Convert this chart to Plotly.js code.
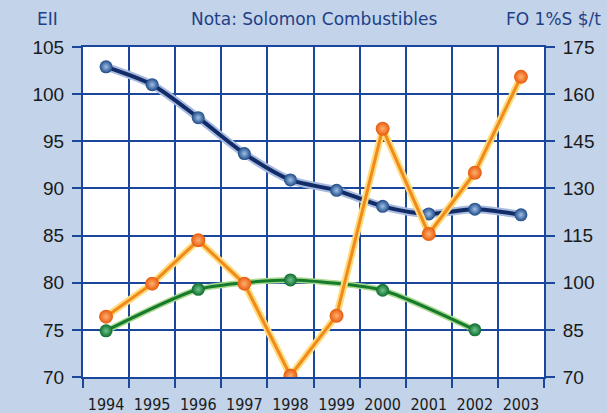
<!DOCTYPE html>
<html>
<head>
<meta charset="utf-8">
<script src="https://cdn.plot.ly/plotly-3.0.1.min.js"></script>
<style>html,body{margin:0;padding:0;background:#C3D3E9;}#chart{width:607px;height:413px;}</style>
</head>
<body>
<div id="chart"></div>
<script>
// Data
const years = ['1994','1995','1996','1997','1998','1999','2000','2001','2002','2003'];
const eii = [102.9, 101.0, 97.5, 93.7, 90.9, 89.8, 88.1, 87.3, 87.8, 87.2];        // left axis (blue)
const fo = [89.2, 99.7, 113.5, 99.7, 70.4, 89.5, 149.0, 115.5, 135.0, 165.5];       // right axis (orange)
const green = [74.9, null, 79.3, null, 80.3, null, 79.2, null, 75.0, null];        // left axis (green)
const leftTicks = [70, 75, 80, 85, 90, 95, 100, 105];
const rightTicks = [70, 85, 100, 115, 130, 145, 160, 175];

const gridC = '#1A479C';

const traces = [
  // green glow + core
  {x: years, y: green, yaxis: 'y', mode: 'lines', connectgaps: true,
   line: {color: '#A9D98F', width: 6, shape: 'spline', smoothing: 0.6}, hoverinfo: 'skip'},
  {x: years, y: green, yaxis: 'y', mode: 'lines+markers', connectgaps: true,
   line: {color: '#157A2C', width: 3, shape: 'spline', smoothing: 0.6},
   marker: {size: 13, color: '#0E6B2E', gradient: {type: 'radial', color: '#6FC48A'}}},
  // blue glow + core
  {x: years, y: eii, yaxis: 'y', mode: 'lines',
   line: {color: '#A8BADF', width: 8, shape: 'spline', smoothing: 0.8}, hoverinfo: 'skip'},
  {x: years, y: eii, yaxis: 'y', mode: 'lines+markers',
   line: {color: '#122C68', width: 4, shape: 'spline', smoothing: 0.8},
   marker: {size: 13, color: '#1E4A86', gradient: {type: 'radial', color: '#9FC0E8'}}},
  // orange glow + core
  {x: years, y: fo, yaxis: 'y2', mode: 'lines',
   line: {color: '#FFDB7A', width: 7}, hoverinfo: 'skip'},
  {x: years, y: fo, yaxis: 'y2', mode: 'lines+markers',
   line: {color: '#F08A1E', width: 3},
   marker: {size: 14, color: '#E85A0C', gradient: {type: 'radial', color: '#FFB070'}}}
];

const tickFont = {family: 'Liberation Sans, Arial, sans-serif', size: 19, color: '#1a1a1a'};
const titleFont = {family: 'DejaVu Sans, sans-serif', size: 17, color: '#1F3F86'};

const layout = {
  width: 607, height: 413,
  paper_bgcolor: '#C3D3E9', plot_bgcolor: '#FFFFFF',
  margin: {l: 83, r: 63, t: 47, b: 36},
  showlegend: false,
  xaxis: {
    type: 'category', categoryorder: 'array', categoryarray: years,
    range: [-0.5, 9.5], tickson: 'boundaries', tickangle: 0, automargin: false,
    showgrid: true, gridcolor: gridC, gridwidth: 2,
    ticks: 'outside', ticklen: 9, tickwidth: 2, tickcolor: gridC,
    showline: true, linecolor: gridC, linewidth: 2, mirror: true,
    tickfont: {family: 'DejaVu Sans Condensed, sans-serif', size: 16, color: '#1a1a1a'},
    ticklabelstandoff: 12, zeroline: false, fixedrange: true
  },
  yaxis: {
    range: [70, 105], tickvals: leftTicks, ticktext: leftTicks.map(String), automargin: false,
    showgrid: true, gridcolor: gridC, gridwidth: 2,
    ticks: 'outside', ticklen: 9, tickwidth: 2, tickcolor: gridC,
    showline: true, linecolor: gridC, linewidth: 2, mirror: true,
    tickfont: tickFont, ticklabelstandoff: 4, zeroline: false, fixedrange: true
  },
  yaxis2: {
    overlaying: 'y', side: 'right', automargin: false,
    range: [70, 175], tickvals: rightTicks, ticktext: rightTicks.map(String),
    showgrid: false,
    ticks: 'outside', ticklen: 10, tickwidth: 2, tickcolor: gridC,
    tickfont: tickFont, ticklabelstandoff: 4, zeroline: false, fixedrange: true
  },
  annotations: [
    {text: 'EII', xref: 'paper', yref: 'paper', x: -0.078, y: 1.0, yshift: 28, xanchor: 'center', yanchor: 'middle', showarrow: false,
     font: titleFont},
    {text: 'Nota: Solomon Combustibles', xref: 'paper', yref: 'paper', x: 0.5, y: 1.0, yshift: 28, xanchor: 'center', yanchor: 'middle', showarrow: false,
     font: titleFont},
    {text: 'FO 1%S $/t', xref: 'paper', yref: 'paper', x: 1.128, y: 1.0, yshift: 28, xanchor: 'right', yanchor: 'middle', showarrow: false,
     font: titleFont}
  ]
};

Plotly.newPlot('chart', traces, layout, {staticPlot: true, displayModeBar: false});
</script>
</body>
</html>
